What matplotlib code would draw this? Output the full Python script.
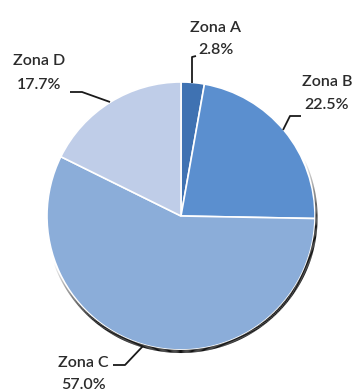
import numpy as np
import matplotlib
matplotlib.use("Agg")
import matplotlib.pyplot as plt
from matplotlib.collections import LineCollection

labels = ["Zona A", "Zona B", "Zona C", "Zona D"]
values = [2.8, 22.5, 57.0, 17.7]
colors = ["#3f72b2", "#5b8fcf", "#8badd9", "#bfcde8"]

W, H = 358, 392
fig = plt.figure(figsize=(W / 100, H / 100), dpi=100)
ax = fig.add_axes([0, 0, 1, 1])

cx, cy, r = 181, H - 216, 134

# shadow rim on lower-right (smooth fade at the ends)
th = np.radians(np.linspace(200, 385, 400))
rr = r + 1.5
px = cx + rr * np.cos(th)
py = cy + rr * np.sin(th)
pts = np.column_stack([px, py]).reshape(-1, 1, 2)
segs = np.concatenate([pts[:-1], pts[1:]], axis=1)
t = np.linspace(0, 1, len(segs))
alpha = np.clip(np.sin(np.pi * t) * 2.0, 0, 1)
cols = np.zeros((len(segs), 4))
cols[:, :3] = 0.07
cols[:, 3] = alpha
lws = 0.6 + 1.6 * np.clip(np.sin(np.pi * t) * 1.5, 0, 1)
ax.add_collection(LineCollection(segs, colors=cols, linewidths=lws, capstyle="butt"))

ax.pie(values, colors=colors, startangle=90, counterclock=False,
       center=(cx, cy), radius=r, frame=True,
       wedgeprops=dict(edgecolor="white", linewidth=1.2))
ax.set_xlim(0, W)
ax.set_ylim(0, H)
ax.set_aspect("equal")
ax.axis("off")

fam = ["Lato", "DejaVu Sans"]
fs = 11.5
tc = "#2b2b2b"

def lab(x, y, text, ha="center"):
    ax.text(x, H - y, text, ha=ha, va="center", fontsize=fs, color=tc,
            family=fam, fontweight="semibold")

def line(pts):
    xs = [p[0] for p in pts]
    ys = [H - p[1] for p in pts]
    ax.plot(xs, ys, color="#1a1a1a", lw=1.3, solid_capstyle="butt")

# Zona A
lab(216, 28, labels[0])
lab(216, 50, f"{values[0]:.1f}%")
line([(196, 56), (192, 57), (192, 83)])
# Zona B
lab(302, 82, labels[1], ha="left")
lab(304, 105, f"{values[1]:.1f}%", ha="left")
line([(301, 116), (290, 116), (283, 130)])
# Zona C
lab(83, 363, labels[2])
lab(83, 385, f"{values[2]:.1f}%")
line([(113, 365), (125, 365), (143, 346)])
# Zona D
lab(39, 61, labels[3])
lab(39, 85, f"{values[3]:.1f}%")
line([(70, 92), (82, 92), (110, 102)])

fig.savefig("out.png", dpi=100)
